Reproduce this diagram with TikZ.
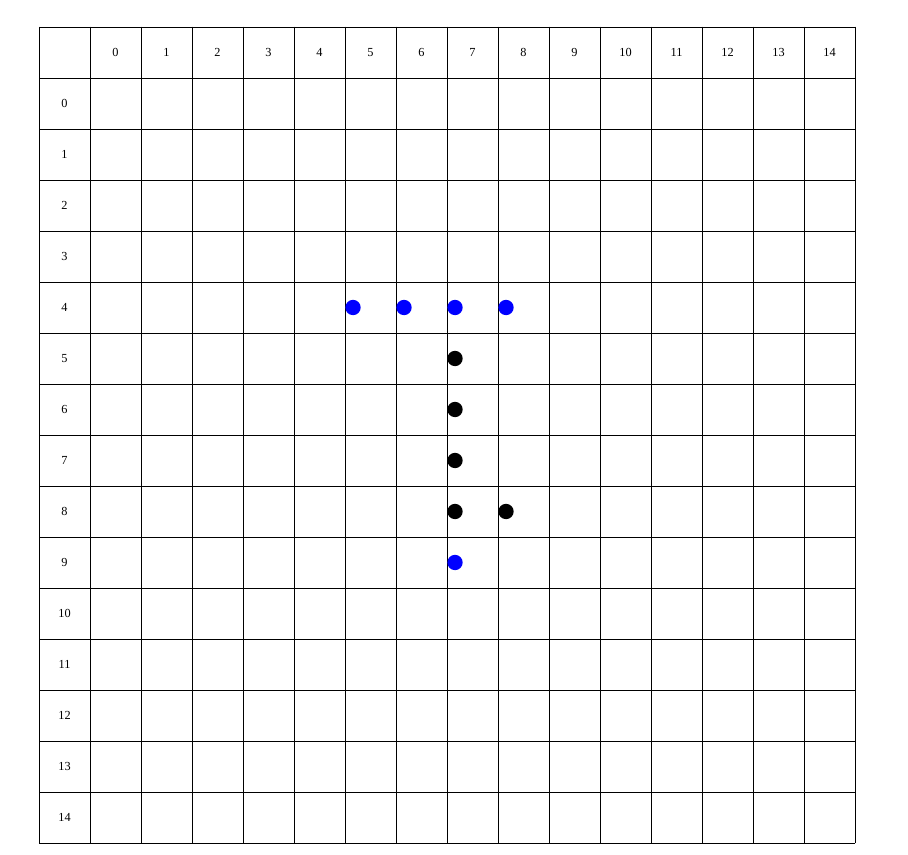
\documentclass[tikz,border=0pt]{standalone}
\usepackage{fontspec}
\setmainfont{Liberation Serif}
\usepackage{xcolor}
\definecolor{stoneblue}{HTML}{0000ff}
\usepackage{tikz}
\usetikzlibrary{positioning}

\begin{document}
\begin{tikzpicture}[
  x=1.53cm, y=1.53cm,
  cell/.style={draw=black, line width=0.8pt, line cap=rect},
  lbl/.style={font=\fontsize{10.5}{12}\selectfont, text=black},
  stone/.style={circle, inner sep=0pt, minimum size=0.46cm}
]
\useasboundingbox (-0.765,0.529) rectangle (17.039,-16.235);

% Grid
\foreach \i in {0,...,16} {
  \draw[cell] (\i,0) -- (\i,-16);
  \draw[cell] (0,-\i) -- (16,-\i);
}

% Labels
\foreach \n in {0,...,14} {
  \node[lbl] (col\n) at (\n+1.5,-0.5) {\n};
  \node[lbl] (row\n) at (0.5,-\n-1.5) {\n};
}

% Blue stones
\foreach \c/\r in {5/4, 6/4, 7/4, 8/4, 7/9}
  \node[stone, fill=stoneblue] (b\c-\r) at (\c+1.157,-\r-1.5) {};

% Black stones
\foreach \c/\r in {7/5, 7/6, 7/7, 7/8, 8/8}
  \node[stone, fill=black] (k\c-\r) at (\c+1.157,-\r-1.5) {};
\end{tikzpicture}
\end{document}
